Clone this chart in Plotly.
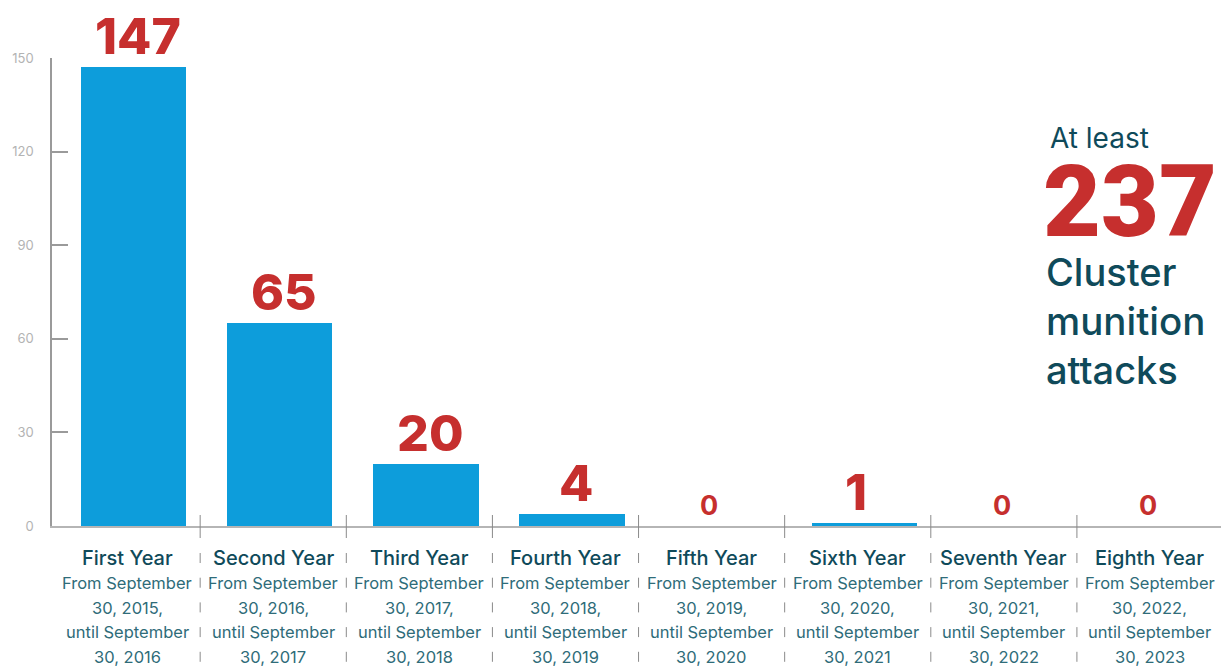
import plotly.graph_objects as go

categories = ["First Year", "Second Year", "Third Year", "Fourth Year",
              "Fifth Year", "Sixth Year", "Seventh Year", "Eighth Year"]
attacks = [147, 65, 20, 4, 0, 1, 0, 0]
period_start = ["30, 2015,", "30, 2016,", "30, 2017,", "30, 2018,",
                "30, 2019,", "30, 2020,", "30, 2021,", "30, 2022,"]
period_end = ["30, 2016", "30, 2017", "30, 2018", "30, 2019",
              "30, 2020", "30, 2021", "30, 2022", "30, 2023"]
y_ticks = [0, 30, 60, 90, 120, 150]
total_text = "237"

FONT = "Inter"
RED = "#c62f2e"
BLUE = "#0d9ddb"
DARK = "#0f4a5a"
SUB = "#2f6c79"

idx = list(range(len(categories)))

fig = go.Figure()
fig.add_trace(go.Bar(
    x=idx, y=attacks, width=0.72, offset=-0.315,
    marker=dict(color=BLUE, line=dict(width=0)),
    hoverinfo="skip",
))

annotations = []
for i, v in enumerate(attacks):
    big = v > 0
    dx = 0.075 if v > 1 else -0.015
    annotations.append(dict(
        x=i + dx, y=v, xref="x", yref="y",
        text=str(v), showarrow=False, yanchor="bottom",
        yshift=-1 if big else 2,
        font=dict(family=FONT, size=50 if big else 27, color=RED,
                  weight=800 if big else 700),
    ))
    annotations.append(dict(
        x=i, y=0, xref="x", yref="y", text=categories[i], showarrow=False,
        yanchor="middle", yshift=-32,
        font=dict(family=FONT, size=20, color=DARK, weight=500),
    ))
    lines = ["From September", period_start[i], "until September", period_end[i]]
    for j, ln in enumerate(lines):
        annotations.append(dict(
            x=i, y=0, xref="x", yref="y", text=ln, showarrow=False,
            yanchor="middle", yshift=-57 - 24.7 * j,
            font=dict(family=FONT, size=16.5, color=SUB, weight=400),
        ))

# right-hand summary
annotations += [
    dict(x=0.852, y=0.828, xref="paper", yref="paper", text="At least",
         showarrow=False, xanchor="left", yanchor="middle",
         font=dict(family=FONT, size=28, color=DARK)),
    dict(x=0.846, y=0.693, xref="paper", yref="paper", text=total_text,
         showarrow=False, xanchor="left", yanchor="middle",
         font=dict(family="Roboto", size=100, color=RED, weight=900)),
    dict(x=0.849, y=0.543, xref="paper", yref="paper", text="Cluster",
         showarrow=False, xanchor="left", yanchor="middle",
         font=dict(family=FONT, size=38, color=DARK, weight=500)),
    dict(x=0.849, y=0.438, xref="paper", yref="paper", text="munition",
         showarrow=False, xanchor="left", yanchor="middle",
         font=dict(family=FONT, size=38.5, color=DARK, weight=500)),
    dict(x=0.849, y=0.333, xref="paper", yref="paper", text="attacks",
         showarrow=False, xanchor="left", yanchor="middle",
         font=dict(family=FONT, size=38, color=DARK, weight=500)),
]

shapes = []
for k in range(len(categories) - 1):
    xb = k + 0.5
    shapes.append(dict(type="line", xref="x", yref="paper", x0=xb, x1=xb,
                       y0=11 / 468, y1=-12 / 468,
                       line=dict(color="#8a8a8a", width=1)))
    shapes.append(dict(type="line", xref="x", yref="paper", x0=xb, x1=xb,
                       y0=-27 / 468, y1=-141 / 468,
                       line=dict(color="#8a8a8a", width=1, dash="10px,14.7px")))

fig.update_layout(
    width=1221, height=666,
    margin=dict(l=52, r=0, t=58, b=140),
    paper_bgcolor="white", plot_bgcolor="white",
    showlegend=False, bargap=0,
    annotations=annotations, shapes=shapes,
    xaxis=dict(range=[-0.514, 7.486], showticklabels=False, ticks="",
               showgrid=False, zeroline=False, showline=True,
               linecolor="#b5b5b5", linewidth=2, fixedrange=True),
    yaxis=dict(range=[0, 150], tickvals=y_ticks, ticks="inside", ticklen=16,
               tickcolor="#9a9a9a", tickwidth=1.5, showgrid=False,
               zeroline=False, showline=True, linecolor="#9a9a9a",
               linewidth=1.5, ticklabelstandoff=14,
               tickfont=dict(family=FONT, size=13, color="#b3b3b3"),
               fixedrange=True),
)

fig.write_html("out.html")
